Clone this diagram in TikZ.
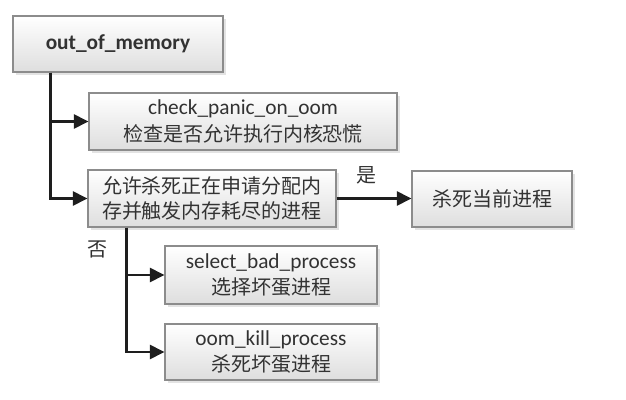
\documentclass[tikz,border=0pt]{standalone}
\usepackage{fontspec}
\setmainfont{Carlito}
\newfontfamily\cjk{Noto Sans CJK SC}
\usetikzlibrary{arrows.meta,shadows}
\definecolor{boxline}{RGB}{140,140,140}
\definecolor{boxtext}{RGB}{50,50,50}
\definecolor{linkline}{RGB}{30,30,30}
\tikzset{
  box/.style={draw=boxline, line width=0.8pt, top color=white, bottom color=black!13,
    drop shadow={shadow xshift=2pt, shadow yshift=-2pt, fill=black!22},
    text=boxtext, align=center, inner sep=0pt, font=\fontsize{16}{20}\selectfont},
  link/.style={draw=linkline, line width=2.2pt, -{Triangle[length=11pt,width=10.5pt]}},
  lbl/.style={text=boxtext, font=\cjk\fontsize{15}{18}\selectfont}
}
\begin{document}
\begin{tikzpicture}[x=0.75pt,y=0.75pt,yscale=-1,xscale=1]
\useasboundingbox (0,0) rectangle (626,400);

%Boxes
\node[box, minimum width=157.5pt, minimum height=42pt] (oom) at (118,44) {\bfseries out\_of\_memory};
\node[box, minimum width=231pt, minimum height=42.75pt] (panic) at (243,121.5)
  {check\_panic\_on\_oom\\{\cjk\fontsize{15}{20}\selectfont 检查是否允许执行内核恐慌}};
\node[box, minimum width=186pt, minimum height=42.75pt, font=\cjk\fontsize{15}{19}\selectfont] (allow) at (212,198.5)
  {允许杀死正在申请分配内\\存并触发内存耗尽的进程};
\node[box, minimum width=120pt, minimum height=42pt, font=\cjk\fontsize{15}{19}\selectfont] (killcur) at (492,199)
  {杀死当前进程};
\node[box, minimum width=159pt, minimum height=43.5pt] (select) at (271,275)
  {select\_bad\_process\\{\cjk\fontsize{15}{20}\selectfont 选择坏蛋进程}};
\node[box, minimum width=159pt, minimum height=42pt] (kill) at (271,352)
  {oom\_kill\_process\\{\cjk\fontsize{15}{20}\selectfont 杀死坏蛋进程}};

%Connectors
\draw[link] ([xshift=28.5pt]oom.south west) |- (panic.west);
\draw[link] ([xshift=28.5pt]oom.south west) |- (allow.west);
\draw[link] (allow.east) -- (allow.east -| killcur.west);
\draw[link] ([xshift=29.25pt]allow.south west) |- (select.west);
\draw[link] ([xshift=29.25pt]allow.south west) |- (kill.west);

%Labels
\node[lbl] (yes) at (366,175) {是};
\node[lbl] (no) at (97,249) {否};
\end{tikzpicture}
\end{document}
